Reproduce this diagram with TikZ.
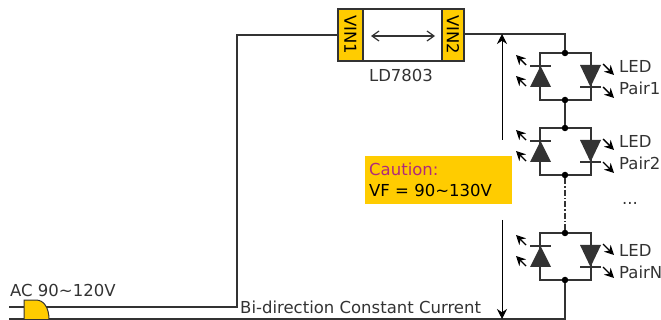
\documentclass[tikz,border=0pt]{standalone}
\usepackage{fontspec}
\setmainfont{DejaVu Sans}
\usetikzlibrary{arrows.meta}
\definecolor{gold}{HTML}{FFCC00}
\definecolor{ink}{HTML}{333333}
\definecolor{caution}{HTML}{B02A7A}
\tikzset{
  wire/.style={draw=ink,line width=1.1pt},
  junction/.style={circle,fill=black,inner sep=0pt,minimum size=6.5pt},
  lab/.style={text=ink,font=\fontsize{16.5}{18}\selectfont,inner sep=0pt},
  pin/.style={draw=ink,line width=1.1pt,fill=gold},
  light/.style={draw=black,line width=1.4pt,-{Stealth[length=9.5pt,width=9.5pt]}},
  current/.style={draw=black,line width=1pt,-{Stealth[length=10pt,width=10pt]}}
}
% one pair of diodes, #1 = prefix of the names, #2 = y of the upper rail
\newcommand{\ledpair}[2]{
  \begin{scope}[shift={(0,#2)}]
    \node[junction] (#1top) at (565,0) {};
    \node[junction] (#1bot) at (565,47) {};
    \coordinate (#1a) at (540,0);
    \coordinate (#1b) at (591,0);
    \coordinate (#1c) at (540,47);
    \coordinate (#1d) at (591,47);
    \draw[wire] (#1top) -- (#1a) -- (#1c) -- (#1bot) -- (#1d) -- (#1b) -- (#1top);
    \fill[ink] (540.5,13) -- (551,34) -- (530,34) -- cycle;
    \fill[ink] (580,12) -- (601,12) -- (590.5,34) -- cycle;
    \draw[wire] (530,13) -- (551,13);
    \draw[wire] (580,34) -- (601,34);
    \draw[light] (526,12) -- (516,2);
    \draw[light] (526,33) -- (516,23);
    \draw[light] (603,11) -- (614,22);
    \draw[light] (603,34) -- (614,45);
  \end{scope}
}
\begin{document}
\begin{tikzpicture}[x=1pt,y=-1pt]
  \useasboundingbox (0,0) rectangle (661,320);
  % chip
  \node[draw=ink,line width=1.1pt,fill=white,minimum width=126pt,minimum height=52pt,inner sep=0pt] (chip) at (401,35) {};
  \node[pin,minimum width=25pt,minimum height=52pt,inner sep=0pt] (vin1) at (350.5,35) {};
  \node[pin,minimum width=22pt,minimum height=52pt,inner sep=0pt] (vin2) at (453,35) {};
  \node[lab,rotate=-90,text=black] (vin1txt) at (350.5,35) {VIN1};
  \node[lab,rotate=-90,text=black] (vin2txt) at (453,35) {VIN2};
  \coordinate (span1) at (371,36);
  \coordinate (span2) at (435,36);
  \draw[ink,line width=1.2pt,{Straight Barb[length=7pt,width=10pt]}-{Straight Barb[length=7pt,width=10pt]}] (span1) -- (span2);
  \node[lab] (chipname) at (401,75) {LD7803};
  % led pairs
  \ledpair{p}{53}
  \ledpair{q}{128}
  \ledpair{n}{233}
  \node[lab,anchor=west] (led1) at (619,66) {LED};
  \node[lab,anchor=west] (pair1) at (619,88) {Pair1};
  \node[lab,anchor=west] (led2) at (619,141) {LED};
  \node[lab,anchor=west] (pair2) at (619,163) {Pair2};
  \node[lab] (dots) at (630,203) {...};
  \node[lab,anchor=west] (ledn) at (619,250) {LED};
  \node[lab,anchor=west] (pairn) at (619,272) {PairN};
  % wires
  \coordinate (in1) at (9,307);
  \coordinate (in2) at (9,319);
  \coordinate (c1) at (237,307);
  \coordinate (c2) at (237,35);
  \coordinate (c3) at (565,34);
  \coordinate (c4) at (565,319);
  \draw[wire] (in1) -- (c1) -- (c2) -- (vin1.west |- c2);
  \draw[wire] (vin2.east |- c3) -- (c3) -- (ptop);
  \draw[wire] (in2) -- (c4) -- (nbot);
  \draw[wire] (pbot) -- (qtop);
  \draw[wire,dash pattern=on 6pt off 2pt on 1.5pt off 2pt] (qbot) -- (ntop);
  % plug
  \fill[gold,draw=ink,line width=1pt] (24,319.5) -- (24,300) -- (36,300) .. controls (44,300) and (49,308) .. (49,319.5) -- cycle;
  \node[lab,anchor=west] (actxt) at (10,290) {AC 90\char`\~120V};
  % current arrows
  \coordinate (up1) at (502,140);
  \coordinate (up2) at (502,34);
  \coordinate (dn1) at (502,220);
  \coordinate (dn2) at (502,319);
  \draw[current] (up1) -- (up2);
  \draw[current] (dn1) -- (dn2);
  \node[lab,anchor=west] (currenttxt) at (240,307) {Bi-direction Constant Current};
  % note
  \node[fill=gold,minimum width=147pt,minimum height=48pt,inner sep=0pt] (note) at (438.5,180) {};
  \node[lab,anchor=west,text=caution] (notea) at (369,169) {Caution:};
  \node[lab,anchor=west,text=black] (noteb) at (369,190) {VF = 90\char`\~130V};
\end{tikzpicture}
\end{document}
